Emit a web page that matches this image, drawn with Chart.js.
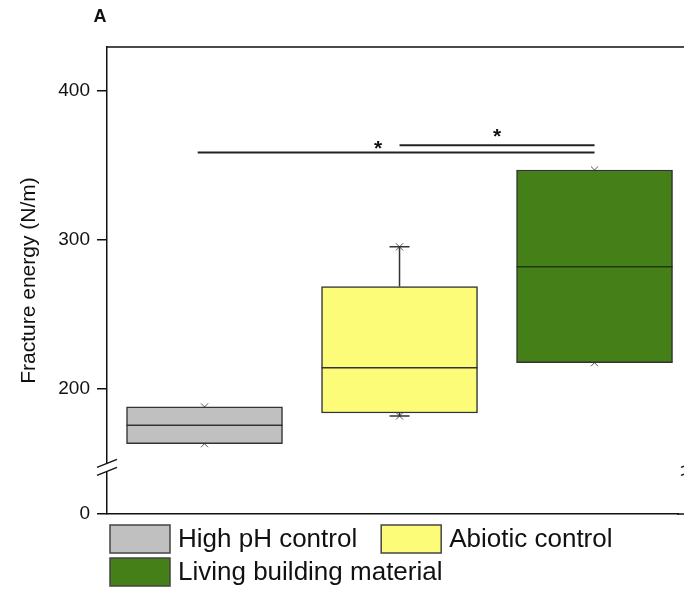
<!DOCTYPE html>
<html>
<head>
<meta charset="utf-8">
<script src="https://cdn.jsdelivr.net/npm/chart.js@4/dist/chart.umd.min.js"></script>
<style>
html, body { margin: 0; padding: 0; background: #fff; overflow: hidden; }
#wrap { width: 684px; height: 589px; }
</style>
</head>
<body>
<div id="wrap"><canvas id="fractureChart"></canvas></div>
<script>
// groups and box statistics (N/m)
var groups = ['High pH control', 'Abiotic control', 'Living building material'];
var groupPos = [1, 2, 3];
var q1 = [162.9, 183.5, 217.3];
var medians = [175.3, 213.9, 281.8];
var q3 = [187.6, 268.5, 346.7];
var mins = [162.9, 181.5, 217.3];
var maxs = [187.6, 295.1, 346.7];
var means = [175.3, 226.0, 281.8];
var boxColors = ['#c0c0c0', '#fcfc78', '#447f17'];

// broken y axis: the "0" tick sits just below the break
var yTickValues = [115.7, 200, 300, 400];
var yTickLabels = ['0', '200', '300', '400'];
var axisBreak = 147;

// significance bars
var sigFrom = [0.965, 2];
var sigTo = [3, 3];
var sigLevel = [358.5, 363.4];
var starX = [1.89, 2.5];
var starY = [364.7, 372.8];

var FONT = "'Liberation Sans', Arial, sans-serif";
var INK = '#111';
var BOX_W = 156;
Chart.defaults.font.family = FONT;
Chart.defaults.color = INK;

var datasets = [];
groups.forEach(function (g, i) {
	datasets.push({
		type: 'bar',
		label: g,
		data: [{x: groupPos[i], y: [q1[i], q3[i]]}],
		backgroundColor: boxColors[i],
		borderColor: '#333',
		borderWidth: 1.5,
		borderSkipped: false,
		barThickness: BOX_W,
		grouped: false
	});
});
datasets.push({
	type: 'scatter',
	label: 'min/max',
	data: groupPos.map(function (p, i) { return {x: p, y: mins[i]}; })
		.concat(groupPos.map(function (p, i) { return {x: p, y: maxs[i]}; })),
	pointStyle: 'crossRot',
	pointRadius: 5,
	borderColor: '#555',
	borderWidth: 1
});
datasets.push({
	type: 'scatter',
	label: 'mean',
	data: groupPos.map(function (p, i) { return {x: p, y: means[i]}; }),
	pointStyle: 'rect',
	pointRadius: 4,
	backgroundColor: 'rgba(0,0,0,0)',
	borderColor: '#555',
	borderWidth: 1
});

function drawBreak(ctx, cx, yb) {
	ctx.fillStyle = '#fff';
	ctx.fillRect(cx - 3, yb - 4, 6, 8);
	ctx.strokeStyle = INK;
	ctx.lineWidth = 1.5;
	[-4, 4].forEach(function (d) {
		ctx.beginPath();
		ctx.moveTo(cx - 10, yb + d + 4);
		ctx.lineTo(cx + 10, yb + d - 4);
		ctx.stroke();
	});
}

var boxExtras = {
	id: 'boxExtras',
	afterDatasetsDraw: function (chart) {
		var ctx = chart.ctx, xs = chart.scales.x, ys = chart.scales.y, area = chart.chartArea;
		ctx.save();
		// whiskers and medians
		groupPos.forEach(function (p, i) {
			var cx = xs.getPixelForValue(p);
			ctx.strokeStyle = '#333';
			ctx.lineWidth = 1.5;
			[[q3[i], maxs[i]], [q1[i], mins[i]]].forEach(function (w) {
				if (w[0] === w[1]) return;
				var y0 = ys.getPixelForValue(w[0]), y1 = ys.getPixelForValue(w[1]);
				ctx.beginPath();
				ctx.moveTo(cx, y0); ctx.lineTo(cx, y1);
				ctx.moveTo(cx - 10, y1); ctx.lineTo(cx + 10, y1);
				ctx.stroke();
			});
			var ym = ys.getPixelForValue(medians[i]);
			ctx.strokeStyle = i === 2 ? '#1e3a0c' : '#333';
			ctx.beginPath();
			ctx.moveTo(cx - BOX_W / 2, ym); ctx.lineTo(cx + BOX_W / 2, ym);
			ctx.stroke();
		});
		// significance lines
		ctx.strokeStyle = '#222';
		ctx.lineWidth = 2;
		sigLevel.forEach(function (lv, i) {
			var yy = ys.getPixelForValue(lv);
			ctx.beginPath();
			ctx.moveTo(xs.getPixelForValue(sigFrom[i]), yy);
			ctx.lineTo(xs.getPixelForValue(sigTo[i]), yy);
			ctx.stroke();
		});
		ctx.fillStyle = INK;
		ctx.font = 'bold 21px ' + FONT;
		ctx.textAlign = 'center';
		ctx.textBaseline = 'alphabetic';
		starX.forEach(function (sx, i) {
			ctx.fillText('*', xs.getPixelForValue(sx), ys.getPixelForValue(starY[i]) + 12);
		});
		// frame lines run on past the visible edge, with axis breaks
		ctx.strokeStyle = INK;
		ctx.lineWidth = 1.5;
		ctx.beginPath();
		ctx.moveTo(area.left, area.top); ctx.lineTo(chart.width, area.top);
		ctx.moveTo(area.right - 1, area.bottom); ctx.lineTo(chart.width, area.bottom);
		ctx.stroke();
		var yb = ys.getPixelForValue(axisBreak);
		drawBreak(ctx, area.left, yb);
		drawBreak(ctx, chart.width + 7, yb);
		ctx.restore();
	},
	afterDraw: function (chart) {
		var ctx = chart.ctx, area = chart.chartArea;
		ctx.save();
		// panel letter
		ctx.fillStyle = INK;
		ctx.font = 'bold 18px ' + FONT;
		ctx.textAlign = 'center';
		ctx.textBaseline = 'alphabetic';
		ctx.fillText('A', 100, 22);
		// legend, flowing left to right
		ctx.font = '26px ' + FONT;
		ctx.textAlign = 'left';
		ctx.textBaseline = 'middle';
		var x = area.left + 3, y = area.bottom + 11;
		groups.forEach(function (g, i) {
			var w = 60 + 8 + ctx.measureText(g).width;
			if (x + w > chart.width && x > area.left + 3) { x = area.left + 3; y += 33; }
			ctx.fillStyle = boxColors[i];
			ctx.fillRect(x, y, 60, 28);
			ctx.strokeStyle = '#444';
			ctx.lineWidth = 1.5;
			ctx.strokeRect(x, y, 60, 28);
			ctx.fillStyle = INK;
			ctx.fillText(g, x + 68, y + 15);
			x += w + 24;
		});
		ctx.restore();
	}
};

new Chart(document.getElementById('fractureChart'), {
	data: {datasets: datasets},
	plugins: [boxExtras],
	options: {
		responsive: true,
		maintainAspectRatio: false,
		animation: false,
		layout: {padding: {top: 47, left: 0, right: 0, bottom: 0}},
		plugins: {legend: {display: false}, tooltip: {enabled: false}},
		scales: {
			x: {
				type: 'linear',
				offset: false,
				min: 0.5,
				max: 3.428,
				afterFit: function (scale) { scale.height = 75; },
				ticks: {display: false},
				grid: {display: false, drawTicks: false},
				border: {display: true, color: INK, width: 1.5}
			},
			y: {
				type: 'linear',
				min: 115.7,
				max: 429.3,
				afterBuildTicks: function (scale) {
					scale.ticks = yTickValues.map(function (v) { return {value: v}; });
				},
				afterFit: function (scale) { scale.width = 107; },
				ticks: {
					callback: function (v) { return yTickLabels[yTickValues.indexOf(v)]; },
					font: {size: 19},
					color: INK,
					padding: 7,
					autoSkip: false
				},
				grid: {drawOnChartArea: false, drawTicks: true, tickLength: 10, color: INK, lineWidth: 1.5},
				border: {display: true, color: INK, width: 1.5},
				title: {display: true, text: 'Fracture energy (N/m)', font: {size: 21}, color: INK, padding: {top: 17, bottom: 0}}
			}
		}
	}
});
</script>
</body>
</html>
